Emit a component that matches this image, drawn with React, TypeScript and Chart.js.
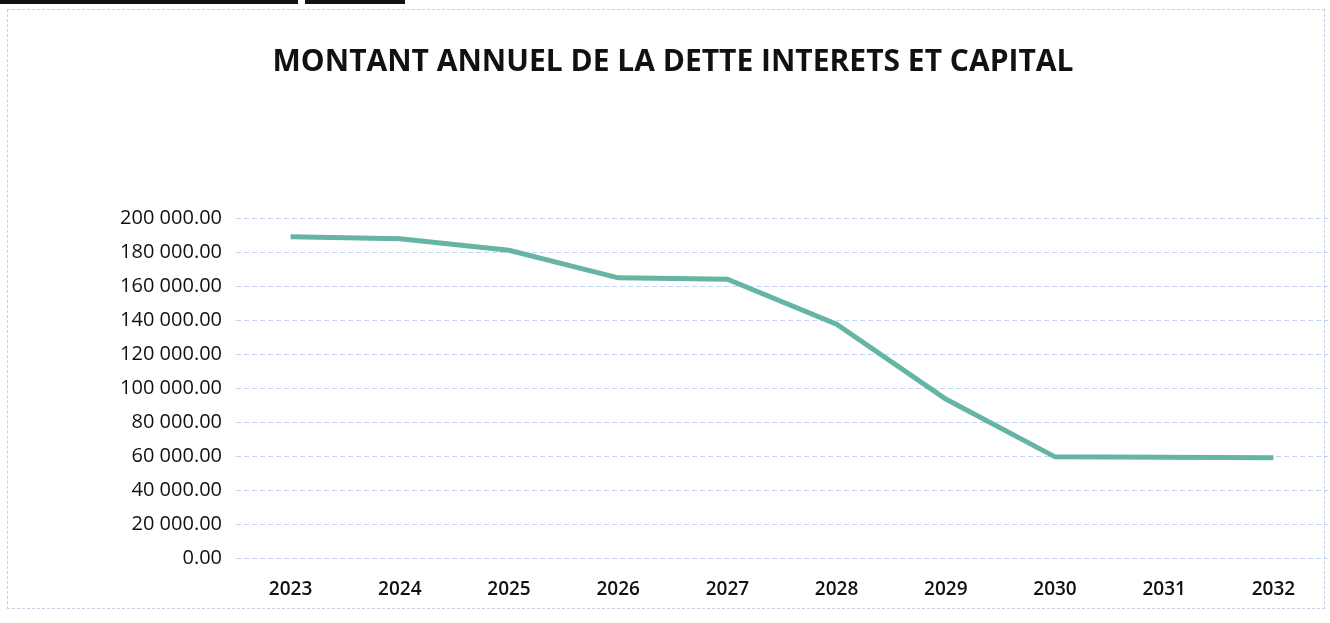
import React, { useEffect, useRef } from "react";
import { Chart, registerables } from "chart.js";

Chart.register(...registerables);

const years = ["2023", "2024", "2025", "2026", "2027", "2028", "2029", "2030", "2031", "2032"];
const amounts = [189000, 187800, 181000, 164800, 164000, 137500, 93500, 59500, 59200, 58900];
const yTickValues = [0, 20000, 40000, 60000, 80000, 100000, 120000, 140000, 160000, 180000, 200000];
const chartTitle = "MONTANT ANNUEL DE LA DETTE INTERETS ET CAPITAL";

function fmt(v: number): string {
  const fixed = Math.abs(v).toFixed(2);
  const [intPart, dec] = fixed.split(".");
  const withSpaces = intPart.replace(/\B(?=(\d{3})+(?!\d))/g, " ");
  return (v < 0 ? "-" : "") + withSpaces + "." + dec;
}

export default function App() {
  const ref = useRef<HTMLCanvasElement | null>(null);

  useEffect(() => {
    document.body.style.margin = "0";
    if (!ref.current) return;
    const chart = new Chart(ref.current, {
      type: "line",
      data: {
        labels: years,
        datasets: [
          {
            data: amounts,
            borderColor: "#66b4a4",
            borderWidth: 5,
            pointRadius: 0,
            tension: 0,
            fill: false,
          },
        ],
      },
      options: {
        animation: false,
        responsive: false,
        layout: { padding: { left: 18, right: 2, top: 0, bottom: 0 } },
        plugins: {
          legend: { display: false },
          tooltip: { enabled: false },
          title: {
            display: true,
            text: chartTitle,
            color: "#111111",
            font: { family: "'Open Sans'", size: 30, weight: "bold", lineHeight: 1.2 },
            padding: { top: 44, bottom: 138 },
          },
        },
        scales: {
          x: {
            offset: true,
            grid: { display: false, drawTicks: false },
            border: { display: false },
            ticks: {
              color: "#111111",
              font: { family: "'Open Sans'", size: 19, weight: 600 },
              padding: 20,
              maxRotation: 0,
            },
            afterFit: (scale: any) => {
              scale.height = 65;
            },
          },
          y: {
            min: 0,
            max: 200000,
            afterBuildTicks: (scale: any) => {
              scale.ticks = yTickValues.map((v) => ({ value: v }));
            },
            grid: {
              color: "rgba(150,175,228,0.55)",
              lineWidth: 1,
              drawTicks: false,
            },
            border: { display: false, dash: [5, 3] },
            ticks: {
              color: "#111111",
              font: { family: "'Open Sans'", size: 20, weight: 500 },
              padding: 14,
              callback: (v: any) => fmt(Number(v)),
            },
            afterFit: (scale: any) => {
              scale.width = 218;
            },
          },
        },
      },
    });
    return () => chart.destroy();
  }, []);

  return (
    <div style={{ position: "absolute", left: 0, top: 0, width: 1330, height: 623, background: "#ffffff", overflow: "hidden" }}>
      <div style={{ position: "absolute", left: 0, top: 0, width: 298, height: 4, background: "#111" }} />
      <div style={{ position: "absolute", left: 305, top: 0, width: 100, height: 4, background: "#111" }} />
      <div
        style={{
          position: "absolute",
          left: 7,
          top: 9,
          width: 1318,
          height: 600,
          border: "1px dashed rgba(170,190,225,0.7)",
          boxSizing: "border-box",
        }}
      />
      <canvas ref={ref} width={1330} height={623} style={{ position: "absolute", left: 0, top: 0 }} />
    </div>
  );
}
